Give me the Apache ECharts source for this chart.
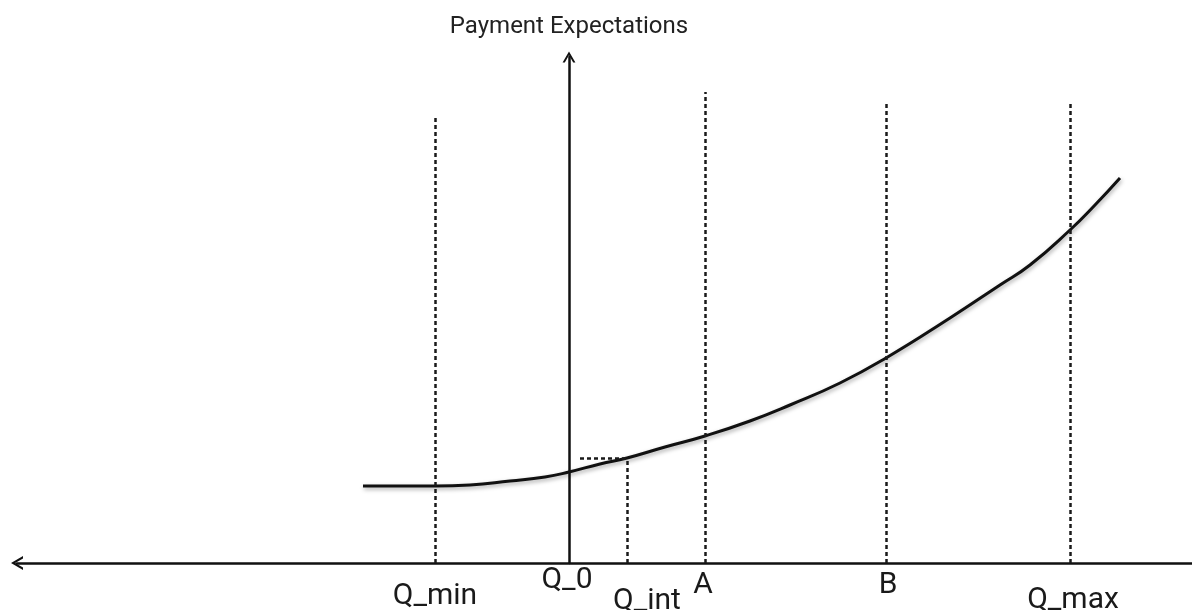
<!DOCTYPE html>
<html>
<head>
<meta charset="utf-8">
<title>Payment Expectations</title>
<script src="https://cdn.jsdelivr.net/npm/echarts@6/dist/echarts.min.js"></script>
<style>
  html, body { margin: 0; padding: 0; background: #fff; }
  #chart { width: 1192px; height: 610px; }
</style>
</head>
<body>
<div id="chart"></div>
<script>
// curve points (quantity, payment expectation)
const curveX = [-20.6, -13.4, -9.9, -5.9, -2.4, 0, 3.1, 5.8, 9.6, 13.6, 18.1, 22.1, 27.1, 31.7, 38.1, 43.1, 46.1, 50.1, 52.6, 55.1]
const curveY = [7.7, 7.7, 7.8, 8.2, 8.6, 9.1, 9.9, 10.5, 11.6, 12.7, 14.2, 15.8, 18.0, 20.5, 24.5, 27.8, 29.8, 33.3, 35.8, 38.5]

// reference quantities on the x axis
const markNames = ['Q_min', 'Q_0', 'Q_int', 'A', 'B', 'Q_max']
const markX = [-13.4, 0, 5.8, 13.6, 31.7, 50.1]
const markTop = [44.6, 50.6, 10.4, 47.1, 46.2, 46.2]

// short dashed guide from the y axis to Q_int
const guideFrom = 1.1
const guideY = 10.5

// label nudges (px), layout only
const labelOffsets = [[0, 18], [-2, 2], [20, 23], [-2, 7], [2, 7], [3, 22]]

const chevron = 'path://M0,12 L7,0 L14,12 L11.6,12 L7,4.2 L2.4,12 Z'
const axisColor = '#111'

const chart = echarts.init(document.getElementById('chart'))

const vLines = markNames.map((name, i) => [
  {
    name: name,
    coord: [markX[i], 0],
    // Q_0 sits on the y axis, so only its label is wanted
    lineStyle: i === 1 ? { color: 'rgba(0,0,0,0)' } : {},
    label: { offset: labelOffsets[i] }
  },
  { coord: [markX[i], markTop[i]] }
])

chart.setOption({
  backgroundColor: '#fff',
  animation: false,
  grid: {
    left: 17,
    right: 0,
    top: 57,
    bottom: 47
  },
  xAxis: {
    type: 'value',
    min: -55.2,
    max: 62.3,
    axisLine: {
      show: true,
      onZero: true,
      symbol: [chevron, 'none'],
      symbolSize: [14, 12],
      lineStyle: { color: axisColor, width: 2.5 }
    },
    axisTick: { show: false },
    axisLabel: { show: false },
    splitLine: { show: false }
  },
  yAxis: {
    type: 'value',
    min: 0,
    max: 50.6,
    name: 'Payment Expectations',
    nameLocation: 'end',
    nameGap: 18,
    nameTextStyle: {
      fontFamily: 'Roboto',
      fontSize: 24,
      color: '#222'
    },
    axisLine: {
      show: true,
      onZero: true,
      symbol: ['none', chevron],
      symbolSize: [14, 11],
      lineStyle: { color: axisColor, width: 2.5 }
    },
    axisTick: { show: false },
    axisLabel: { show: false },
    splitLine: { show: false }
  },
  series: [
    {
      name: 'Payment Expectations',
      type: 'line',
      smooth: true,
      showSymbol: false,
      data: curveX.map((x, i) => [x, curveY[i]]),
      lineStyle: {
        color: '#111',
        width: 3,
        shadowColor: 'rgba(0,0,0,0.35)',
        shadowBlur: 4,
        shadowOffsetX: 1,
        shadowOffsetY: 2
      },
      markLine: {
        silent: true,
        symbol: 'none',
        animation: false,
        lineStyle: {
          color: '#1a1a1a',
          width: 2.5,
          type: [4, 3]
        },
        label: {
          show: true,
          position: 'start',
          distance: 0,
          formatter: '{b}',
          fontFamily: 'Roboto',
          fontSize: 30,
          color: '#1a1a1a'
        },
        data: vLines.concat([
          [
            { coord: [guideFrom, guideY], label: { show: false } },
            { coord: [markX[2], guideY] }
          ]
        ])
      }
    }
  ]
})
</script>
</body>
</html>
